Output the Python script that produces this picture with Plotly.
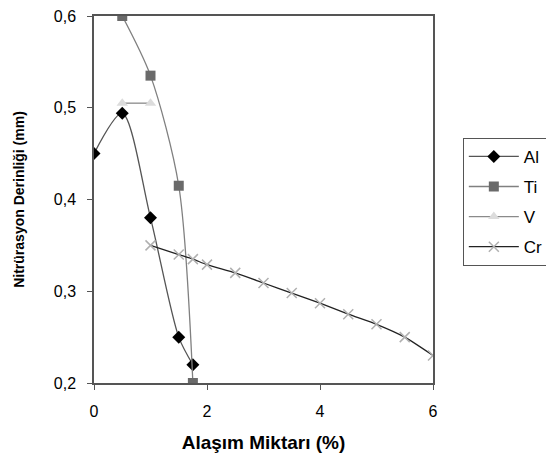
import plotly.graph_objects as go

al_x = [0, 0.5, 1.0, 1.5, 1.75]
al_y = [0.45, 0.494, 0.38, 0.25, 0.22]
ti_x = [0.5, 1.0, 1.5, 1.75]
ti_y = [0.60, 0.535, 0.415, 0.20]
v_x = [0.5, 1.0]
v_y = [0.505, 0.505]
cr_x = [1.0, 1.5, 1.75, 2.0, 2.5, 3.0, 3.5, 4.0, 4.5, 5.0, 5.5, 6.0]
cr_y = [0.35, 0.34, 0.335, 0.329, 0.32, 0.309, 0.298, 0.287, 0.275, 0.264, 0.25, 0.23]

x_ticks = [0, 2, 4, 6]
y_ticks = [0.2, 0.3, 0.4, 0.5, 0.6]

FONT = "Liberation Sans, Arial, sans-serif"

fig = go.Figure()
fig.add_trace(go.Scatter(x=al_x, y=al_y, name="Al", legendgroup="a", mode="lines+markers",
                         line=dict(color="#555555", width=1.3, shape="spline", smoothing=0.8),
                         marker=dict(symbol="diamond", size=10, color="black")))
fig.add_trace(go.Scatter(x=ti_x, y=ti_y, name="Ti", legendgroup="b", mode="lines+markers",
                         line=dict(color="#808080", width=1.3, shape="spline", smoothing=0.8),
                         marker=dict(symbol="square", size=10, color="#6a6a6a")))
fig.add_trace(go.Scatter(x=v_x, y=v_y, name="V", legendgroup="c", mode="lines+markers",
                         line=dict(color="#8a8a8a", width=1.3),
                         marker=dict(symbol="triangle-up", size=10, color="#dcdcdc")))
fig.add_trace(go.Scatter(x=cr_x, y=cr_y, name="Cr", legendgroup="d", mode="lines+markers",
                         line=dict(color="#222222", width=1.3, shape="spline", smoothing=0.6),
                         marker=dict(symbol="x-thin", size=10, line=dict(color="#b0b0b0", width=1.5))))

fig.update_layout(
    width=554, height=459,
    margin=dict(l=86, r=129, t=8, b=84, autoexpand=False),
    paper_bgcolor="white", plot_bgcolor="white",
    separators=",.",
    font=dict(family=FONT, size=14, color="black"),
    showlegend=True,
    legend=dict(x=1.088, y=0.668, xanchor="left", yanchor="top",
                bordercolor="#555555", borderwidth=1, bgcolor="white",
                font=dict(size=17), tracegroupgap=5, itemwidth=50,
                traceorder="grouped"),
)
fig.update_xaxes(range=[0, 6], tickvals=x_ticks, ticks="outside", ticklen=5, tickcolor="#555555",
                 showline=True, linecolor="#555555", linewidth=1.5, mirror=True,
                 showgrid=False, zeroline=False, ticklabelstandoff=8, ticklabeloverflow="allow",
                 title=dict(text="<b>Alaşım Miktarı (%)</b>", font=dict(size=19), standoff=17),
                 tickfont=dict(size=16))
fig.update_yaxes(range=[0.2, 0.6], tickvals=y_ticks, tickformat=".1f", ticks="outside", ticklen=5,
                 tickcolor="#555555",
                 showline=True, linecolor="#555555", linewidth=1.5, mirror=True,
                 showgrid=False, zeroline=False, ticklabelstandoff=8, ticklabeloverflow="allow",
                 title=dict(text="<b>Nitrürasyon Derinliği (mm)</b>", font=dict(size=14), standoff=26),
                 tickfont=dict(size=16))

fig.write_html("out.html")
